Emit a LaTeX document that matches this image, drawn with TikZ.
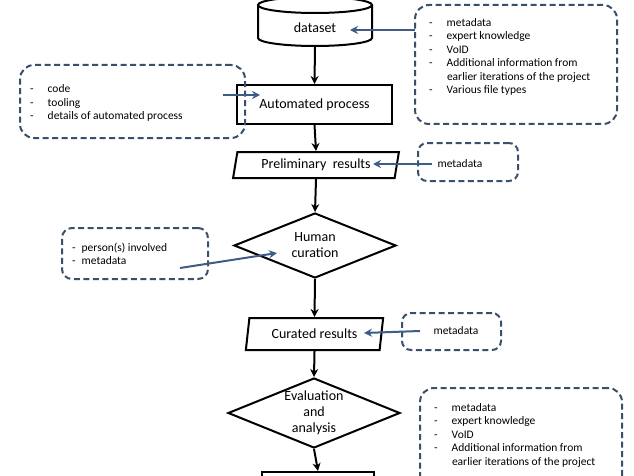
\documentclass[tikz,border=0pt]{standalone}
\usepackage{fontspec}
\setmainfont{Carlito}
\usetikzlibrary{shapes.geometric,arrows.meta}
\definecolor{nb}{HTML}{3A4F6A}
\definecolor{ab}{HTML}{3E5C85}
\begin{document}
\begin{tikzpicture}[x=1pt,y=-1pt,
 blk/.style={draw=black,line width=2pt,fill=white},
 note/.style={draw=nb,dash pattern=on 6pt off 3.5pt,line width=2pt,rounded corners=14pt},
 flow/.style={-{Stealth[length=8pt,width=8pt]},line width=2pt},
 ref/.style={-{Stealth[length=8pt,width=8pt]},line width=2pt,draw=ab},
 lst/.style={font=\fontsize{11.5}{13.5}\selectfont,anchor=west,align=left,inner sep=0pt},
 mt/.style={font=\fontsize{14}{16}\selectfont}]
\useasboundingbox (0,0) rectangle (634,476);
% dataset cylinder
\begin{scope}
\clip (0,0) rectangle (634,476);
\draw[blk] (258,5) -- (258,38) arc[start angle=180,end angle=0,x radius=57,y radius=8] -- (372,5);
\draw[blk] (315,5) ellipse[x radius=57,y radius=8];
\end{scope}
\node[mt] (ds) at (315,28) {dataset};
\coordinate (dsb) at (315,46);
% right note 1
\node[note,minimum width=202pt,minimum height=119pt] (n1) at (516,64.5) {};
\node[lst] at (429,57) {-\hspace{14pt}metadata\\-\hspace{14pt}expert knowledge\\-\hspace{14pt}VoID\\-\hspace{14pt}Additional information from\\\hspace{17.8pt}earlier iterations of the project\\-\hspace{14pt}Various file types};
\draw[ref] (415,30) -- (350,30);
% automated
\node[blk,mt,minimum width=155pt,minimum height=39pt] (ap) at (314.5,104.5) {Automated process};
\draw[flow] (dsb) -- (ap.north);
% left note 1
\node[note,minimum width=225pt,minimum height=73pt] (n2) at (132.5,101.5) {};
\node[lst] at (30,103) {-\hspace{14pt}code\\-\hspace{14pt}tooling\\-\hspace{14pt}details of automated process};
\draw[ref] (223,95) -- (260,95);
% preliminary
\node[blk,mt,trapezium,trapezium left angle=79,trapezium right angle=101,trapezium stretches=true,minimum width=166pt,minimum height=26pt,inner sep=2pt] (pr) at (316,165) {Preliminary\ \ results};
\draw[flow] (ap.south) -- (pr.north);
\node[note,minimum width=100pt,minimum height=38pt,rounded corners=9pt] (n3) at (468,162) {};
\node[lst,anchor=center] at (460,164) {metadata};
\draw[ref] (432,164) -- (373,164);
% human curation
\node[blk,mt,diamond,aspect=2.5,minimum width=162pt,minimum height=65pt,inner sep=0pt,align=center] (hc) at (315,245.5) {Human\\curation};
\draw[flow] (pr.south) -- (hc.north);
\node[note,minimum width=146pt,minimum height=51pt,rounded corners=10pt] (n4) at (135,253.5) {};
\node[lst] at (72,254) {-\hspace{6pt}person(s) involved\\-\hspace{6pt}metadata};
\draw[ref] (180,268) -- (277,253);
% curated
\node[blk,mt,trapezium,trapezium left angle=80,trapezium right angle=100,trapezium stretches=true,minimum width=138pt,minimum height=32pt,inner sep=2pt] (cr) at (314.5,334) {Curated results};
\draw[flow] (hc.south) -- (cr.north);
\node[note,minimum width=99pt,minimum height=37pt,rounded corners=9pt] (n5) at (451.5,331.5) {};
\node[lst,anchor=center] at (456,331) {metadata};
\draw[ref] (420,331) -- (364,333);
% evaluation
\node[blk,mt,diamond,aspect=2.45,minimum width=172pt,minimum height=70pt,inner sep=0pt,align=center] (ev) at (314,413) {Evaluation\\and\\analysis};
\draw[flow] (cr.south) -- (ev.north);
% bottom box
\node[blk,minimum width=112pt,minimum height=20pt] (bt) at (318,482) {};
\draw[flow] (ev.south) -- (bt.north);
% right note 2
\node[note,minimum width=202pt,minimum height=110pt] (n6) at (521,443) {};
\node[lst,anchor=north west] at (434,403) {-\hspace{14pt}metadata\\-\hspace{14pt}expert knowledge\\-\hspace{14pt}VoID\\-\hspace{14pt}Additional information from\\\hspace{17.8pt}earlier iterations of the project};
\end{tikzpicture}
\end{document}
